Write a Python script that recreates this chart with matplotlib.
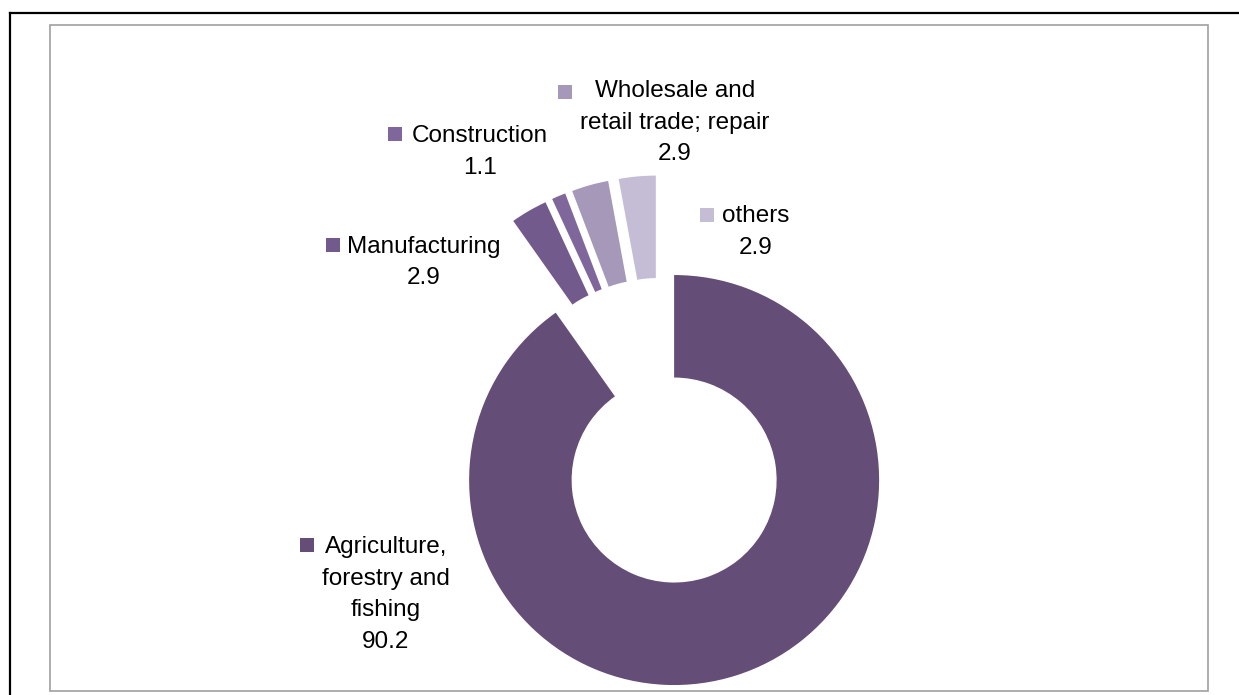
import matplotlib.pyplot as plt
from matplotlib.patches import Rectangle
from matplotlib.lines import Line2D

plt.rcParams['font.family'] = ['Liberation Sans', 'DejaVu Sans']

# data
sectors = ['Agriculture, forestry and fishing', 'Manufacturing', 'Construction',
           'Wholesale and retail trade; repair', 'others']
shares = [90.2, 2.9, 1.1, 2.9, 2.9]
label_lines = [['Agriculture,', 'forestry and', 'fishing'],
               ['Manufacturing'],
               ['Construction'],
               ['Wholesale and', 'retail trade; repair'],
               ['others']]
colors = ['#644D76', '#725B8C', '#80679B', '#A598B9', '#C5BDD5']
explode = [0.208, 0.288, 0.288, 0.288, 0.288]

W, H = 1239, 695
fig = plt.figure(figsize=(W / 100, H / 100), dpi=100)
ax = fig.add_axes([0, 0, 1, 1])

ax.pie(shares, colors=colors, explode=explode, startangle=90, counterclock=False,
       radius=1.0, wedgeprops=dict(width=0.5, linewidth=0))

# pie centre in pixels, 1 data unit = 205 px
cx, cy, scale = 661.2, 439.4, 205.0
ax.set_xlim(-cx / scale, (W - cx) / scale)
ax.set_ylim((cy - H) / scale, cy / scale)
ax.set_aspect('auto')
ax.axis('off')


def fx(x):
    return x / W


def fy(y):
    return 1 - y / H


# label layout: centre x, first baseline, legend square (left, top)
layout = [(386, 553, 300, 538),
          (424, 253, 326, 238),
          (480, 142, 388, 127),
          (675, 97, 558, 85),
          (756, 222, 700, 208)]
step = 31.5
for lines, val, col, (tx, ty, sx, sy) in zip(label_lines, shares, colors, layout):
    for i, line in enumerate(lines + [f'{val:.1f}']):
        fig.text(fx(tx), fy(ty + i * step), line, ha='center', va='baseline',
                 fontsize=17.5, color='black')
    fig.add_artist(Rectangle((fx(sx), fy(sy + 14)), 14 / W, 14 / H,
                             transform=fig.transFigure, color=col, lw=0))

# chart frames
fig.add_artist(Rectangle((fx(50), fy(691)), (1208 - 50) / W, (691 - 25) / H,
                         transform=fig.transFigure, fill=False,
                         edgecolor='#A0A0A0', linewidth=1.2))
fig.add_artist(Line2D([fx(10), fx(W)], [fy(13), fy(13)], transform=fig.transFigure,
                      color='black', linewidth=1.6))
fig.add_artist(Line2D([fx(10), fx(10)], [fy(13), fy(H)], transform=fig.transFigure,
                      color='black', linewidth=1.6))

fig.savefig('out.png', dpi=100)
plt.close(fig)
